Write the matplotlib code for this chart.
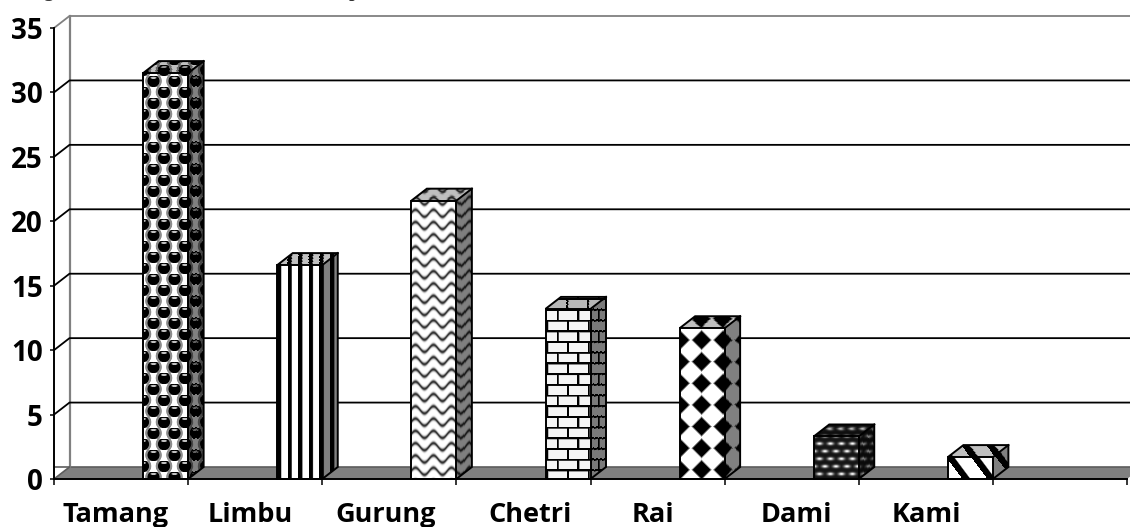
import matplotlib
matplotlib.use("Agg")
import matplotlib.pyplot as plt
from matplotlib.patches import Polygon
import numpy as np

castes = ["Tamang", "Limbu", "Gurung", "Chetri", "Rai", "Dami", "Kami"]
shares = [31.5, 16.6, 21.6, 13.2, 11.7, 3.3, 1.7]
y_ticks = [0, 5, 10, 15, 20, 25, 30, 35]

N_SLOTS = 8
W, H = 1130, 527
LEFT, RIGHT, TOP, BOTTOM = 54, 1127, 28, 479
YMAX = 35
PX_X = N_SLOTS / (RIGHT - LEFT)
PX_Y = YMAX / (BOTTOM - TOP)

# depth of the fake 3d box and bar size, in pixels
DEPTH_X, DEPTH_Y = 15.5, 12
BAR_W = 45

# label centres are a little uneven along the axis, in pixels
label_px = [116, 250, 386, 530, 653, 796, 926]


def soft(d, width=0.8):
    # 1 where d is negative, 0 where positive, short ramp between
    return np.clip(0.5 - d / width, 0, 1)


def spheres(x, y):
    row = np.round((y - 8) / 11)
    dx = (x - 10.5 - (row % 2) * 10.5 + 10.5) % 21 - 10.5
    dy = y - 8 - row * 11
    r = np.hypot(dx, dy)
    v = 1 - 0.45 * soft(r - 8.3)
    v = v * (1 - soft(r - 6.0))
    shine = soft(np.hypot(dx / 2.8, (dy + 3.2) / 1.1) - 1, 0.6)
    return v * (1 - shine) + 0.75 * shine


def stripes(x, y):
    return 1 - soft((x % 10.6) - 4.2, 1.2)


def waves(x, y):
    yy = y + 3.5 * np.sin(2 * np.pi * x / 18)
    d = np.abs((yy + 6.15) % 12.3 - 6.15)
    return 1 - 0.8 * np.exp(-(d / 1.9) ** 2)


def bricks(x, y):
    row = np.floor(y / 10.7)
    mortar_h = soft((y % 10.7) - 2)
    mortar_v = soft(((x + (row % 2) * 10.4 + 10) % 20.7) - 2)
    return 0.96 * (1 - np.maximum(mortar_h, mortar_v))


def diamonds(x, y):
    dx = (x + 10.8) % 21.6 - 10.8
    dy = (y - 12 + 10.8) % 21.6 - 10.8
    return 1 - soft(np.abs(dx) + np.abs(dy) - 9.5, 2.5)


def dots(x, y):
    row = np.round(y / 7.5)
    dx = (x - (row % 2) * 5.5 + 5.5) % 11 - 5.5
    dy = y - row * 7.5
    return 0.08 + 0.9 * np.exp(-(dx / 3.2) ** 2 - (dy / 1.6) ** 2)


def diagonal(x, y):
    return 1 - soft(((x - 0.75 * y + 2) % 25) - 8, 1.5)


textures = [spheres, stripes, waves, bricks, diamonds, dots, diagonal]

fig = plt.figure(figsize=(W / 100, H / 100), dpi=100)
ax = fig.add_axes([LEFT / W, 1 - BOTTOM / H, (RIGHT - LEFT) / W, (BOTTOM - TOP) / H])
ax.set_xlim(0, N_SLOTS)
ax.set_ylim(0, YMAX)
ax.set_facecolor("none")

dx3 = DEPTH_X * PX_X
dy3 = DEPTH_Y * PX_Y

# floor and back wall
ax.add_patch(Polygon([(0, 0), (dx3, dy3), (N_SLOTS + dx3, dy3), (N_SLOTS, 0)],
                     fc="#808080", ec="none", zorder=1, clip_on=False))
ax.plot([0, N_SLOTS + dx3], [dy3, dy3], color="#5c5c5c", lw=1.2, zorder=1.5, clip_on=False)
ax.plot([dx3, dx3], [dy3, YMAX + dy3], color="#808080", lw=1.6, zorder=1.5, clip_on=False)

for t in y_ticks[1:]:
    c = "#808080" if t == YMAX else "black"
    ax.plot([0, dx3, N_SLOTS + dx3], [t, t + dy3, t + dy3], color=c, lw=1.3,
            zorder=1.6, clip_on=False)
ax.plot([0, dx3], [0, dy3], color="#5c5c5c", lw=1.2, zorder=1.6, clip_on=False)


def face(x0, y0, ux, uy, vx, vy, nu, nv, tex, shade, left, top, z):
    # one sheared face, about one pixel per cell; the pattern stays level on screen
    iu, iv = np.meshgrid(np.arange(nu + 1), np.arange(nv + 1))
    X = x0 + iu * ux + iv * vx
    Y = y0 + iu * uy + iv * vy
    cx = (X[:-1, :-1] + X[1:, 1:]) / 2
    cy = (Y[:-1, :-1] + Y[1:, 1:]) / 2
    g = tex((cx - left) / PX_X, (top - cy) / PX_Y) * shade
    ax.pcolormesh(X, Y, g, cmap="gray", vmin=0, vmax=1, shading="flat",
                  antialiased=False, linewidth=0, zorder=z, clip_on=False)


for i, (val, tex) in enumerate(zip(shares, textures)):
    right = i + 1
    left = right - BAR_W * PX_X
    z = 3 + i
    nv = int(round(val / PX_Y))
    nd_x = int(round(DEPTH_X)) * 2
    nd_y = int(round(DEPTH_Y)) * 2
    # front
    face(left, val, PX_X, 0, 0, -val / nv, BAR_W, nv, tex, 1.0, left, val, z)
    # side, from the front right edge to the back
    face(right, val, dx3 / nd_x, dy3 / nd_x, 0, -val / nv, nd_x, nv, tex, 0.5, left, val, z)
    # top, rows counted from the back edge
    face(left + dx3, val + dy3, PX_X, 0, -dx3 / nd_y, -dy3 / nd_y, BAR_W, nd_y, tex, 0.75,
         left, val, z)
    # box outline
    ax.add_patch(Polygon([(left, 0), (left, val), (right, val), (right, 0)], fc="none",
                         ec="black", lw=1.4, zorder=z + 0.5, clip_on=False))
    ax.add_patch(Polygon([(right, 0), (right + dx3, dy3), (right + dx3, val + dy3),
                          (left + dx3, val + dy3), (left, val)], fc="none", ec="black",
                         lw=1.4, joinstyle="miter", closed=False, zorder=z + 0.5, clip_on=False))
    ax.plot([right, right + dx3], [val, val + dy3], color="black", lw=1.4, zorder=z + 0.5,
            clip_on=False)

for s in ("top", "right"):
    ax.spines[s].set_visible(False)
for s in ("left", "bottom"):
    ax.spines[s].set_linewidth(1.4)
    ax.spines[s].set_zorder(20)

ax.set_yticks(y_ticks)
ax.set_yticklabels([str(t) for t in y_ticks], fontfamily="Open Sans", fontweight="bold", fontsize=20)
ax.tick_params(axis="y", length=3, width=1.1, pad=5)
ax.set_xticks(range(N_SLOTS + 1))
ax.set_xticklabels([])
ax.tick_params(axis="x", which="major", length=4.5, width=1.1)
ax.set_xticks([(p - LEFT) * PX_X for p in label_px], minor=True)
ax.set_xticklabels(castes, minor=True, fontfamily="Open Sans", fontweight="bold", fontsize=19.5)
ax.tick_params(axis="x", which="minor", length=0, pad=16.5)

# caption above the chart runs off the top of the frame, only its descenders show
fig.text(48 / W, 1 + 3 / H, "g", family="Liberation Serif", weight="bold", fontsize=14,
         ha="center", va="baseline", color="#333333")
fig.text(354 / W, 1 + 3 / H, "p", family="Liberation Serif", weight="bold", fontsize=14,
         ha="center", va="baseline", color="#333333")

fig.savefig("out.png", dpi=100, facecolor="white")
